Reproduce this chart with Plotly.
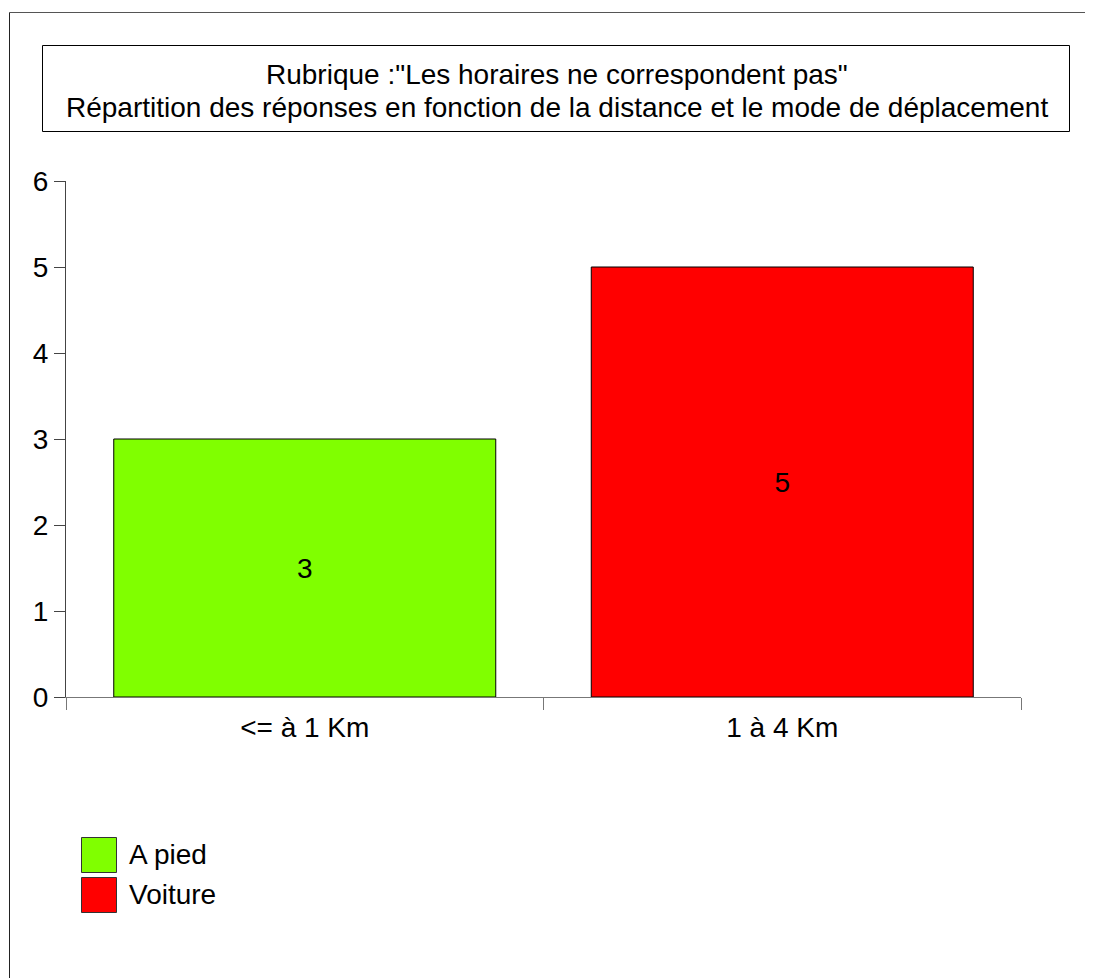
import plotly.graph_objects as go

categories = ["<= à 1 Km", "1 à 4 Km"]
series_names = ["A pied", "Voiture"]
series_values = [[3, None], [None, 5]]
series_colors = ["#80FF00", "#FF0000"]
title_lines = ['Rubrique :"Les horaires ne correspondent pas"',
               "Répartition des réponses en fonction de la distance et le mode de déplacement"]

OFF = 8  # browser body margin
W, H = 1093, 978 - OFF
L, R, T, B = 66 - OFF, 1021 - OFF, 181 - OFF, 697 - OFF
FONT = "Liberation Sans, Arial, sans-serif"
FS = 28

def px(x):
    # x in reference screenshot pixels
    return (x - OFF - L) / (R - L)

def py(y):
    return (B - (y - OFF)) / (B - T)

fig = go.Figure()
for name, vals, col in zip(series_names, series_values, series_colors):
    fig.add_trace(go.Bar(
        x=categories, y=vals, name=name,
        marker=dict(color=col, line=dict(color="#000000", width=1)),
        text=[("" if v is None else str(v)) for v in vals],
        textposition="inside", insidetextanchor="middle",
        textfont=dict(family=FONT, size=FS, color="#000000"),
        width=0.8, showlegend=False,
    ))

shapes = []
# page border (top + left)
shapes.append(dict(type="line", xref="paper", yref="paper",
                   x0=px(9.5), x1=px(1110), y0=py(12.5), y1=py(12.5),
                   line=dict(color="#555555", width=1)))
shapes.append(dict(type="line", xref="paper", yref="paper",
                   x0=px(9.5), x1=px(9.5), y0=py(12.5), y1=py(1000),
                   line=dict(color="#222222", width=1)))
# title box
shapes.append(dict(type="rect", xref="paper", yref="paper",
                   x0=px(42.5), x1=px(1069.5), y0=py(45.5), y1=py(131.5),
                   line=dict(color="#000000", width=1), fillcolor="rgba(0,0,0,0)"))

annotations = []
for i, line in enumerate(title_lines):
    annotations.append(dict(text=line, xref="paper", yref="paper",
                            x=px(557), y=py(74 + 33.5 * i), showarrow=False,
                            xanchor="center", yanchor="middle",
                            font=dict(family=FONT, size=FS, color="#000000")))

# custom legend
for i, (name, col) in enumerate(zip(series_names, series_colors)):
    top = 837 + 40 * i
    shapes.append(dict(type="rect", xref="paper", yref="paper",
                       x0=px(81.5), x1=px(116.5), y0=py(top + 0.5), y1=py(top + 35.5),
                       line=dict(color="#333333", width=1), fillcolor=col))
    annotations.append(dict(text=name, xref="paper", yref="paper",
                            x=px(127), y=py(top + 17), showarrow=False,
                            xanchor="left", yanchor="middle",
                            font=dict(family=FONT, size=FS, color="#000000")))

fig.update_layout(
    width=W, height=H,
    margin=dict(l=L, r=W - R, t=T, b=H - B, pad=0),
    paper_bgcolor="white", plot_bgcolor="white",
    barmode="overlay",
    shapes=shapes, annotations=annotations,
    font=dict(family=FONT, size=FS, color="#000000"),
    xaxis=dict(showgrid=False, zeroline=False, showline=True, linecolor="#777777", linewidth=1,
               ticks="outside", ticklen=12, tickcolor="#777777", tickson="boundaries",
               ticklabelstandoff=5,
               tickfont=dict(family=FONT, size=FS, color="#000000"), fixedrange=True),
    yaxis=dict(range=[0, 6], dtick=1, showgrid=False, zeroline=False, showline=True,
               linecolor="#444444", linewidth=1, ticks="outside", ticklen=11, tickcolor="#444444",
               tickfont=dict(family=FONT, size=FS, color="#000000"), fixedrange=True),
)

fig.write_html("out.html")
